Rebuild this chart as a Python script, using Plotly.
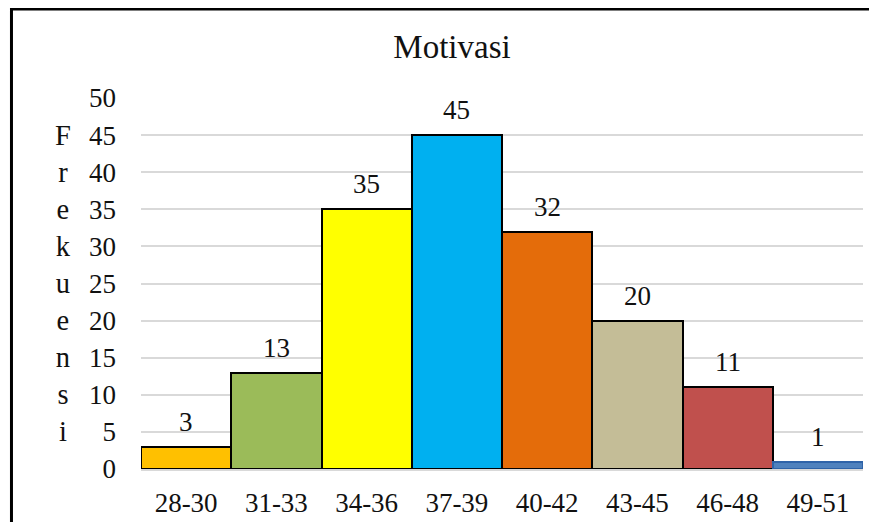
import plotly.graph_objects as go

categories = ["28-30", "31-33", "34-36", "37-39", "40-42", "43-45", "46-48", "49-51"]
frequencies = [3, 13, 35, 45, 32, 20, 11, 1]
bar_colors = ["#FFC000", "#9BBB59", "#FFFF00", "#00B0F0", "#E46C0A", "#C4BD97", "#C0504D", "#4F81BD"]
outline_colors = ["#000000"] * 7 + ["#2F63A8"]
y_ticks = [0, 5, 10, 15, 20, 25, 30, 35, 40, 45, 50]
y_letters = list("Frekuensi")

FONT = "Liberation Serif, Times New Roman, serif"

fig = go.Figure()
fig.add_trace(go.Bar(
    x=categories, y=frequencies,
    marker=dict(color=bar_colors, line=dict(color=outline_colors, width=2)),
    hoverinfo="x+y",
))

for c, v in zip(categories, frequencies):
    fig.add_annotation(x=c, y=v, text=str(v), showarrow=False, yanchor="bottom",
                       yshift=8, font=dict(family=FONT, size=27, color="#111111"))

fig.add_annotation(xref="paper", yref="paper", x=-0.108, y=0.5, xanchor="center", yanchor="middle",
                   text="<br>".join(y_letters), showarrow=False, align="center",
                   font=dict(family=FONT, size=28.5, color="#111111"))

# outer frame (left and top edges visible)
fig.add_shape(type="rect", xref="paper", yref="paper",
              x0=-0.1794, x1=1.2, y0=-0.3, y1=1.240,
              line=dict(color="#000000", width=3), fillcolor="rgba(0,0,0,0)", layer="above")

fig.update_layout(
    width=861, height=514,
    margin=dict(l=133, r=6, t=90, b=53, autoexpand=False),
    paper_bgcolor="white", plot_bgcolor="white",
    bargap=0,
    showlegend=False,
    title=dict(text="Motivasi", x=0.5157, xanchor="center", y=0.926, yanchor="middle",
               font=dict(family=FONT, size=33, color="#111111")),
    font=dict(family=FONT, color="#111111"),
    xaxis=dict(showgrid=False, showline=True, linecolor="#D9D9D9", linewidth=2,
               tickfont=dict(family=FONT, size=27, color="#111111"), ticks="",
               ticklabelstandoff=9, automargin=False),
    yaxis=dict(range=[0, 50], tickvals=y_ticks, showgrid=True, gridcolor="#D9D9D9", gridwidth=2,
               zeroline=False, showline=False, ticks="", automargin=False,
               tickfont=dict(family=FONT, size=27, color="#111111"), ticklabelstandoff=24),
)

fig.write_html("out.html")
